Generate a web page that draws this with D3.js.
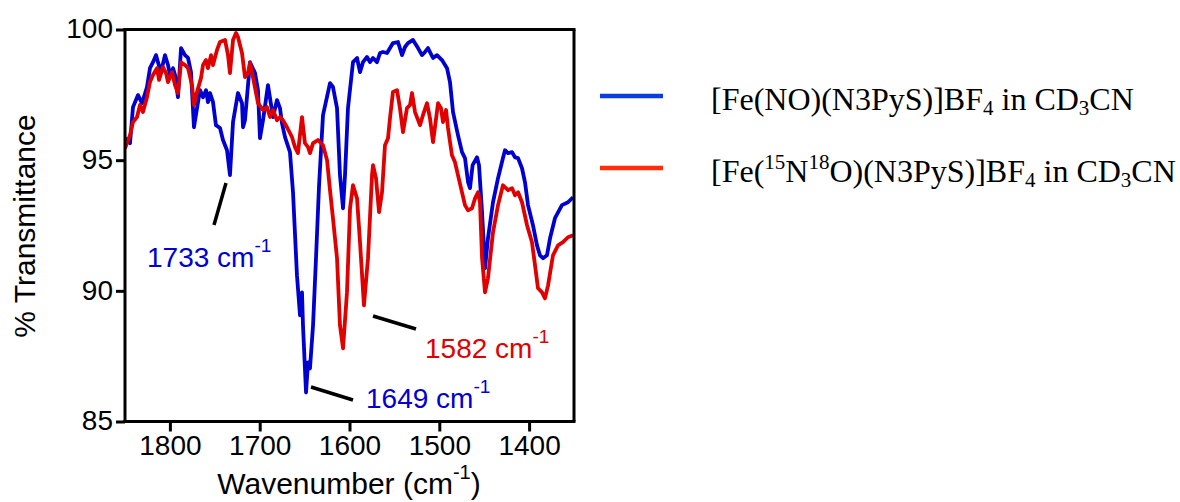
<!DOCTYPE html>
<html>
<head>
<meta charset="utf-8">
<script src="https://cdn.jsdelivr.net/npm/d3@7"></script>
<style>
  html, body { margin: 0; padding: 0; background: #fff; }
  svg { display: block; }
</style>
</head>
<body>
<svg id="chart" width="1180" height="502"></svg>
<script>
// ---- data ----
const blueWavenumber = [1850, 1844.4, 1841.1, 1835.5, 1831.1, 1825.5, 1822.2, 1818.8, 1815.5, 1813.3,
  1809.9, 1805.5, 1802.1, 1799.9, 1796.5, 1794.3, 1791.0, 1787.6, 1783.2, 1779.8,
  1776.5, 1773.2, 1769.8, 1766.5, 1763.1, 1759.8, 1757.6, 1755.3, 1752.0, 1748.7,
  1744.2, 1740.9, 1736.4, 1733.1, 1729.7, 1724.2, 1719.7, 1718.6, 1716.4, 1710.8,
  1705.2, 1701.9, 1699.7, 1696.3, 1690.8, 1685.2, 1680.7, 1677.4, 1675.2, 1671.8,
  1666.3, 1662.9, 1658.5, 1655.1, 1652.9, 1651.8, 1648.4, 1646.2, 1644.0, 1640.6,
  1637.3, 1633.9, 1629.5, 1621.7, 1618.4, 1613.9, 1610.6, 1607.2, 1605.0, 1601.7,
  1596.1, 1591.6, 1588.3, 1585.0, 1580.5, 1577.2, 1573.8, 1569.4, 1566.0, 1562.7,
  1558.2, 1554.9, 1551.6, 1546.0, 1541.5, 1538.2, 1534.9, 1529.3, 1523.7, 1519.3,
  1515.9, 1512.6, 1507.0, 1502.6, 1497.0, 1491.4, 1488.1, 1484.7, 1479.2, 1474.7,
  1471.4, 1468.0, 1465.8, 1462.9, 1458.0, 1455.8, 1452.4, 1449.1, 1445.8, 1440.2,
  1434.6, 1429.1, 1426.8, 1423.5, 1419.0, 1415.7, 1412.3, 1407.9, 1404.6, 1401.2,
  1395.7, 1391.2, 1387.9, 1384.5, 1380.1, 1376.7, 1371.2, 1363.4, 1356.7, 1351.1];
const blueTransmittance = [95.84, 95.65, 97.03, 97.49, 97.18, 97.80, 98.52, 98.75, 99.02, 98.75,
  98.37, 99.02, 98.64, 98.26, 98.52, 98.26, 97.41, 99.29, 99.02, 98.91,
  98.37, 96.26, 96.99, 97.68, 97.41, 97.68, 97.22, 97.57, 97.22, 96.34,
  96.23, 95.77, 95.38, 94.43, 96.46, 97.57, 97.18, 96.26, 96.53, 98.75,
  98.33, 97.68, 95.84, 96.53, 97.87, 96.65, 97.30, 96.99, 96.42, 95.88,
  95.31, 93.77, 90.59, 89.06, 89.94, 88.68, 86.11, 87.26, 87.03, 88.68,
  91.25, 94.04, 96.72, 97.95, 97.80, 96.99, 94.43, 93.16, 94.43, 96.99,
  98.75, 98.91, 98.37, 98.75, 98.95, 98.75, 98.91, 98.75, 99.10, 99.14,
  99.10, 99.29, 99.48, 99.52, 99.02, 99.33, 99.48, 99.60, 99.29, 99.02,
  99.14, 99.29, 98.91, 99.02, 98.83, 98.52, 97.99, 96.84, 95.96, 95.31,
  95.08, 94.16, 93.93, 94.81, 95.11, 94.81, 93.01, 90.86, 92.01, 93.39,
  94.31, 95.08, 95.38, 95.27, 95.31, 95.11, 95.08, 94.69, 94.16, 93.28,
  92.51, 91.74, 91.36, 91.25, 91.36, 92.01, 92.78, 93.28, 93.39, 93.58];

const redWavenumber = [1850, 1844.4, 1841.1, 1836.6, 1833.3, 1830.0, 1825.5, 1822.2, 1818.8, 1814.4,
  1812.1, 1807.7, 1804.3, 1802.1, 1797.7, 1794.3, 1791.0, 1787.6, 1783.2, 1779.8,
  1775.4, 1773.2, 1769.8, 1765.4, 1763.1, 1759.8, 1757.6, 1754.2, 1752.0, 1747.6,
  1744.2, 1738.6, 1735.3, 1733.1, 1729.7, 1726.4, 1724.2, 1719.7, 1716.4, 1713.0,
  1710.8, 1707.5, 1701.9, 1696.3, 1691.9, 1688.5, 1685.2, 1680.7, 1677.4, 1674.1,
  1669.6, 1664.0, 1660.7, 1657.4, 1652.9, 1649.6, 1646.2, 1644.0, 1640.6, 1635.1,
  1629.5, 1625.0, 1621.7, 1618.4, 1613.9, 1610.6, 1607.2, 1602.8, 1599.4, 1596.1,
  1591.6, 1588.3, 1583.9, 1579.4, 1574.9, 1573.8, 1570.5, 1567.1, 1563.8, 1560.5,
  1557.1, 1554.9, 1551.6, 1547.1, 1543.8, 1540.4, 1536.0, 1532.6, 1530.4, 1527.0,
  1521.5, 1518.2, 1513.7, 1510.4, 1507.0, 1501.4, 1498.1, 1495.9, 1492.5, 1490.3,
  1485.9, 1482.5, 1479.2, 1474.7, 1471.4, 1468.0, 1463.6, 1460.2, 1456.9, 1454.7,
  1452.4, 1449.1, 1445.8, 1440.2, 1434.6, 1429.1, 1423.5, 1419.0, 1415.7, 1412.3,
  1407.9, 1402.3, 1396.8, 1393.4, 1390.1, 1385.6, 1382.3, 1378.9, 1373.4, 1367.8,
  1362.3, 1356.7, 1351.1];
const redTransmittance = [95.45, 95.96, 96.46, 96.65, 97.11, 96.84, 97.41, 97.99, 98.26, 98.52,
  98.07, 98.56, 98.33, 97.99, 98.37, 97.87, 97.57, 98.75, 98.64, 98.52,
  97.87, 97.11, 97.61, 98.14, 98.64, 98.83, 98.52, 99.02, 98.64, 99.21,
  99.52, 99.60, 99.02, 98.33, 99.60, 99.87, 99.71, 99.10, 98.18, 98.33,
  98.72, 98.18, 97.18, 96.92, 97.03, 96.65, 96.92, 96.53, 96.65, 96.53,
  96.26, 95.88, 95.50, 95.27, 96.65, 95.65, 95.50, 95.27, 95.65, 95.77,
  95.57, 95.00, 93.85, 92.78, 91.25, 88.68, 87.80, 89.94, 93.16, 94.04,
  93.54, 91.86, 89.44, 91.25, 94.43, 94.81, 94.31, 93.01, 93.77, 95.57,
  95.84, 96.61, 97.61, 97.68, 96.99, 96.07, 96.99, 97.11, 97.57, 96.84,
  96.34, 96.72, 97.18, 96.61, 95.69, 97.18, 96.99, 96.46, 96.92, 96.23,
  95.19, 94.92, 94.43, 93.77, 93.28, 93.08, 93.16, 93.54, 93.77, 93.39,
  91.25, 89.94, 90.48, 92.24, 93.28, 94.04, 93.85, 93.93, 93.66, 93.77,
  93.39, 92.51, 91.86, 90.98, 90.10, 89.94, 89.71, 90.21, 91.36, 91.74,
  91.86, 92.05, 92.13];

const xTicks = [1800, 1700, 1600, 1500, 1400];
const yTicks = [85, 90, 95, 100];
const xDomain = [1850, 1350];
const yDomain = [85, 100];

const peakLabels = [
  { value: 1733, series: "blue" },
  { value: 1649, series: "blue" },
  { value: 1582, series: "red" }
];

// ---- drawing ----
const svg = d3.select("#chart");
const sans = "'Liberation Sans', Arial, sans-serif";
const serif = "'Liberation Serif', 'Times New Roman', serif";
const plotColor = { blue: "#0000d0", red: "#e00000" };
const legendColor = { blue: "#0a3ce0", red: "#ff2d0a" };

const x = d3.scaleLinear().domain(xDomain).range([125, 574]);
const y = d3.scaleLinear().domain(yDomain).range([421.5, 29.5]);

const line = d3.line().x(d => x(d[0])).y(d => y(d[1])).curve(d3.curveLinear);
const blueData = d3.zip(blueWavenumber, blueTransmittance);
const redData = d3.zip(redWavenumber, redTransmittance);

svg.append("clipPath").attr("id", "clip")
  .append("rect").attr("x", x(xDomain[0])).attr("y", y(yDomain[1]))
  .attr("width", x(xDomain[1]) - x(xDomain[0])).attr("height", y(yDomain[0]) - y(yDomain[1]));

const g = svg.append("g").attr("clip-path", "url(#clip)");
g.append("path").datum(blueData).attr("d", line)
  .attr("fill", "none").attr("stroke", plotColor.blue).attr("stroke-width", 3.8)
  .attr("stroke-linejoin", "round");
g.append("path").datum(redData).attr("d", line)
  .attr("fill", "none").attr("stroke", plotColor.red).attr("stroke-width", 3.8)
  .attr("stroke-linejoin", "round");

// frame top/right
svg.append("line").attr("x1", x(xDomain[0]) - 1.5).attr("x2", x(xDomain[1]) + 1.5)
  .attr("y1", y(yDomain[1])).attr("y2", y(yDomain[1]))
  .attr("stroke", "#000").attr("stroke-width", 3);
svg.append("line").attr("x1", x(xDomain[1])).attr("x2", x(xDomain[1]))
  .attr("y1", y(yDomain[1])).attr("y2", y(yDomain[0]))
  .attr("stroke", "#000").attr("stroke-width", 3);

// axes
const yAxis = svg.append("g").attr("transform", `translate(${x(xDomain[0])},0)`)
  .call(d3.axisLeft(y).tickValues(yTicks).tickSize(9).tickSizeOuter(0).tickPadding(3));
const xAxis = svg.append("g").attr("transform", `translate(0,${y(yDomain[0])})`)
  .call(d3.axisBottom(x).tickValues(xTicks).tickSize(10).tickSizeOuter(0).tickPadding(4)
    .tickFormat(d3.format("d")));

[yAxis, xAxis].forEach(a => {
  a.select(".domain").attr("stroke", "#000").attr("stroke-width", 3);
  a.selectAll(".tick line").attr("stroke", "#000").attr("stroke-width", 3);
  a.selectAll(".tick text").attr("fill", "#000").style("font-family", sans).style("font-size", "28px");
});
yAxis.selectAll(".tick text").attr("dy", "0.3em");
yAxis.select(".domain").attr("d", `M0,${y(yDomain[1]) - 1.5}V${y(yDomain[0]) + 1.5}`);
xAxis.select(".domain").attr("d", `M${x(xDomain[0]) - 1.5},0H${x(xDomain[1]) + 1.5}`);

function rich(sel, parts, small, supShift, subShift) {
  let cur = 0;
  parts.forEach(p => {
    const off = p.sup ? -supShift : (p.sub ? subShift : 0);
    const ts = sel.append("tspan").attr("dy", off - cur).text(p.t);
    if (p.sup || p.sub) ts.style("font-size", small + "px");
    cur = off;
  });
}

// axis titles
svg.append("text")
  .attr("transform", "translate(35,226) rotate(-90)")
  .attr("text-anchor", "middle")
  .style("font-family", sans).style("font-size", "30px").attr("fill", "#000")
  .text("% Transmittance");

const xTitle = svg.append("text")
  .attr("x", 349).attr("y", 494).attr("text-anchor", "middle")
  .style("font-family", sans).style("font-size", "30px").attr("fill", "#000");
rich(xTitle, [{ t: "Wavenumber (cm" }, { t: "-1", sup: true }, { t: ")" }], 20, 15, 0);

// peak annotations
const labelPos = {
  1733: { tx: 147, ty: 267, l: [[226, 183], [214, 225]] },
  1649: { tx: 366, ty: 408, l: [[311, 387], [353, 400]] },
  1582: { tx: 425, ty: 358, l: [[373, 316], [416, 329]] }
};
peakLabels.forEach(p => {
  const pos = labelPos[p.value];
  svg.append("line")
    .attr("x1", pos.l[0][0]).attr("y1", pos.l[0][1])
    .attr("x2", pos.l[1][0]).attr("y2", pos.l[1][1])
    .attr("stroke", "#000").attr("stroke-width", 3.5);
  const t = svg.append("text").attr("x", pos.tx).attr("y", pos.ty)
    .style("font-family", sans).style("font-size", "28px")
    .attr("fill", plotColor[p.series]);
  rich(t, [{ t: p.value + " cm" }, { t: "-1", sup: true }], 19, 15, 0);
});

// legend
const legendItems = [
  { key: "blue", y: 96, parts: [{ t: "[Fe(NO)(N3PyS)]BF" }, { t: "4", sub: true }, { t: " in CD" }, { t: "3", sub: true }, { t: "CN" }] },
  { key: "red", y: 168, parts: [{ t: "[Fe(" }, { t: "15", sup: true }, { t: "N" }, { t: "18", sup: true }, { t: "O)(N3PyS)]BF" }, { t: "4", sub: true }, { t: " in CD" }, { t: "3", sub: true }, { t: "CN" }] }
];
legendItems.forEach(it => {
  svg.append("line").attr("x1", 600).attr("x2", 663).attr("y1", it.y).attr("y2", it.y)
    .attr("stroke", legendColor[it.key]).attr("stroke-width", 4.5);
  const t = svg.append("text").attr("x", 711).attr("y", it.y + 14)
    .style("font-family", serif).style("font-size", "32px").attr("fill", "#000");
  rich(t, it.parts, 21, 13, 5);
});
</script>
</body>
</html>
